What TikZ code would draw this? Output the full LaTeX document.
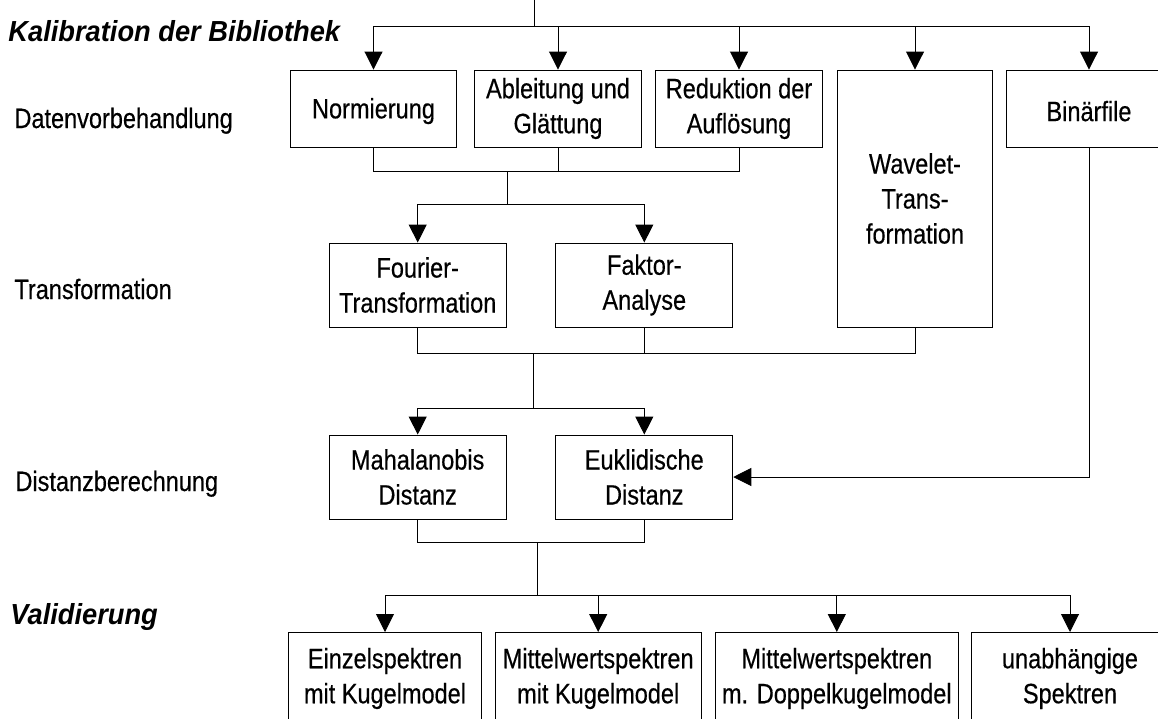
\documentclass[tikz,border=0pt]{standalone}
\usepackage{fontspec}
\usetikzlibrary{arrows.meta}
\newfontfamily\schmal[FakeStretch=0.84,FakeBold=0.4]{Liberation Sans}
\newfontfamily\breit[FakeStretch=0.94]{Liberation Sans}

\begin{document}
\begin{tikzpicture}[x=1pt,y=-1pt,line width=0.9pt,
    kasten/.style={draw,inner xsep=2pt,align=center,
      font=\schmal\fontsize{28}{35}\selectfont},
    tief/.style={execute at begin node={\rule{0pt}{#1}}},
    tief/.default=31pt,
    pfeil/.style={-{Triangle[length=18pt,width=18pt]}},
    etikett/.style={anchor=base west,inner sep=0pt,
      font=\schmal\fontsize{28}{35}\selectfont},
    phase/.style={anchor=base west,inner sep=0pt,
      font=\breit\bfseries\itshape\fontsize{29}{35}\selectfont}]

  % Rahmen
  \useasboundingbox (0,0) rectangle (1158,718);
  \clip (0,0) rectangle (1158,718);

  % Zeilen (Mitte der Kaesten)
  \def\yA{108.5} % Datenvorbehandlung
  \def\yB{285}   % Transformation
  \def\yC{477}   % Distanzberechnung
  \def\yD{632}   % Validierung (Oberkante)

  % Beschriftung links
  \node[phase] (kalib) at (8,41.7) {Kalibration der Bibliothek};
  \node[etikett] (datv) at (14,128) {Datenvorbehandlung};
  \node[etikett] (trans) at (14,299) {Transformation};
  \node[etikett] (dist) at (15,491) {Distanzberechnung};
  \node[phase] (valid) at (10,624.7) {Validierung};

  % Datenvorbehandlung
  \node[kasten,tief=25.5pt,minimum width=166pt,minimum height=77pt] (norm) at (373.5,\yA) {Normierung};
  \node[kasten,tief,minimum width=167pt,minimum height=77pt] (abl) at (558,\yA) {Ableitung und\\Glättung};
  \node[kasten,tief,minimum width=167pt,minimum height=77pt] (red) at (739,\yA) {Reduktion der\\Auflösung};
  \node[kasten,minimum width=155pt,minimum height=257pt] (wav) at (915,198.5) {Wavelet-\\Trans-\\formation};
  \node[kasten,tief=25.5pt,minimum width=166pt,minimum height=77pt] (bin) at (1089,\yA) {Binärfile};

  % Transformation
  \node[kasten,tief=23pt,minimum width=177pt,minimum height=84pt] (four) at (417.7,\yB) {Fourier-\\Transformation};
  \node[kasten,tief=23pt,minimum width=177pt,minimum height=84pt] (fak) at (644.3,\yB) {Faktor-\\Analyse};

  % Distanzberechnung
  \node[kasten,minimum width=177pt,minimum height=84pt] (maha) at (417.7,\yC) {Mahalanobis\\Distanz};
  \node[kasten,minimum width=177pt,minimum height=84pt] (eukl) at (644.3,\yC) {Euklidische\\Distanz};

  % Validierung
  \node[kasten,anchor=north,inner ysep=15.5pt,minimum width=193pt] (v1) at (385,\yD) {Einzelspektren\\mit Kugelmodel};
  \node[kasten,anchor=north,inner ysep=15.5pt,minimum width=206pt] (v2) at (598.2,\yD) {Mittelwertspektren\\mit Kugelmodel};
  \node[kasten,anchor=north,inner ysep=15.5pt,minimum width=243.6pt] (v3) at (836.8,\yD) {Mittelwertspektren\\m. Doppelkugelmodel};
  \node[kasten,anchor=north,inner ysep=15.5pt,minimum width=198pt] (v4) at (1070,\yD) {unabhängige\\Spektren};

  % Verzweigungspunkte
  \coordinate (oben) at (534,-2);
  \coordinate (k1) at (534,26);
  \coordinate (k2) at (507,171);
  \coordinate (k3) at (507,204);
  \coordinate (k4) at (533,353);
  \coordinate (k5) at (533,408);
  \coordinate (k6) at (537,542);
  \coordinate (k7) at (537,595);

  % Eingang oben
  \draw (oben) -- (k1);
  \foreach \ziel in {norm,abl,red,wav,bin}
    \draw[pfeil] (k1) -| (\ziel);

  % zur Transformation
  \foreach \quelle in {norm,abl,red}
    \draw (\quelle) |- (k2);
  \draw (k2) -- (k3);
  \foreach \ziel in {four,fak}
    \draw[pfeil] (k3) -| (\ziel);

  % zur Distanzberechnung
  \foreach \quelle in {four,fak,wav}
    \draw (\quelle) |- (k4);
  \draw (k4) -- (k5);
  \foreach \ziel in {maha,eukl}
    \draw[pfeil] (k5) -| (\ziel);
  \draw[pfeil] (bin) |- (eukl);

  % zur Validierung
  \foreach \quelle in {maha,eukl}
    \draw (\quelle) |- (k6);
  \draw (k6) -- (k7);
  \foreach \ziel in {v1,v2,v3,v4}
    \draw[pfeil] (k7) -| (\ziel);

\end{tikzpicture}
\end{document}
